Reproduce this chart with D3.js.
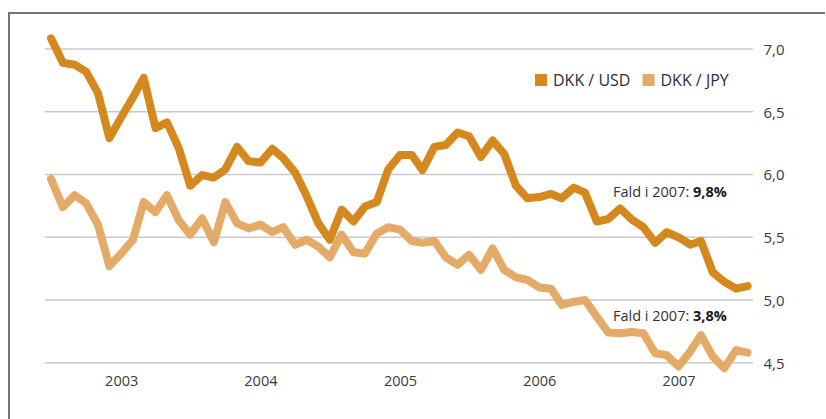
<!DOCTYPE html>
<html><head><meta charset="utf-8">
<script src="https://cdn.jsdelivr.net/npm/d3@7"></script>
<style>
html,body{margin:0;padding:0;background:#fff;}
svg{display:block;font-family:"Open Sans","Noto Sans",sans-serif;}
</style></head>
<body>
<svg id="c" width="826" height="419"></svg>
<script>
const startMonth = "2002-07";
const usd = [7.085,6.89,6.875,6.82,6.65,6.29,6.455,6.615,6.77,6.37,6.415,6.21,5.91,5.995,5.975,6.04,6.22,6.105,6.095,6.205,6.13,6.015,5.83,5.61,5.48,5.72,5.625,5.745,5.78,6.04,6.155,6.155,6.035,6.22,6.235,6.335,6.305,6.14,6.27,6.165,5.91,5.81,5.82,5.845,5.81,5.895,5.855,5.625,5.645,5.73,5.64,5.58,5.455,5.54,5.5,5.44,5.47,5.22,5.145,5.09,5.11];
const jpy = [5.965,5.74,5.835,5.77,5.6,5.27,5.37,5.48,5.78,5.7,5.835,5.635,5.52,5.65,5.46,5.78,5.61,5.57,5.6,5.54,5.58,5.44,5.48,5.425,5.34,5.52,5.38,5.37,5.53,5.58,5.56,5.47,5.455,5.47,5.34,5.28,5.36,5.24,5.41,5.24,5.18,5.16,5.1,5.09,4.96,4.985,5.0,4.865,4.74,4.735,4.745,4.735,4.575,4.56,4.47,4.59,4.72,4.55,4.455,4.6,4.58];
const yTicks = [4.5,5.0,5.5,6.0,6.5,7.0];
const yearTicks = [2003,2004,2005,2006,2007];
const seriesNames = ["DKK / USD","DKK / JPY"];
const notes = [{pre:"Fald i 2007: ",val:"9,8%",y:5.82},{pre:"Fald i 2007: ",val:"3,8%",y:4.83}];

const colors = ["#d4881e","#e4ab68"];
const svg = d3.select("#c");
const p0 = d3.timeParse("%Y-%m")(startMonth);
const dates = usd.map((d,i)=>d3.timeMonth.offset(p0,i));

const x = d3.scaleTime().domain([dates[0], dates[dates.length-1]]).range([51,747.5]);
const y = d3.scaleLinear().domain([4.5,7.0]).range([362.7,49]);

// frame
svg.append("line").attr("x1",9).attr("x2",825).attr("y1",13).attr("y2",13).attr("stroke","#767676").attr("stroke-width",2);
svg.append("line").attr("x1",9).attr("x2",9).attr("y1",12).attr("y2",419).attr("stroke","#767676").attr("stroke-width",2);

// gridlines
svg.append("g").selectAll("line").data(yTicks).join("line")
  .attr("x1",45).attr("x2",753).attr("y1",d=>y(d)).attr("y2",d=>y(d))
  .attr("stroke","#c9c9c9").attr("stroke-width",1.5);

// y labels
const fmt = d=>d3.format(".1f")(d).replace(".",",");
const yAxis = d3.axisRight(y).tickValues(yTicks).tickFormat(fmt).tickSize(0).tickPadding(0);
const ga = svg.append("g").attr("transform","translate(763.5,0)").call(yAxis);
ga.select(".domain").remove();
ga.selectAll("text").attr("fill","#3a3a3a").style("font-size","15px").style("font-family","'Open Sans','Noto Sans',sans-serif").attr("dy","0.36em");

// x labels
const xAxis = d3.axisBottom(x).tickValues(yearTicks.map(yy=>new Date(yy,0,1))).tickFormat(d3.timeFormat("%Y")).tickSize(0).tickPadding(0);
const gx = svg.append("g").attr("transform","translate(0,381)").call(xAxis);
gx.select(".domain").remove();
gx.selectAll("text").attr("fill","#3a3a3a").style("font-size","14.5px").style("font-family","'Open Sans','Noto Sans',sans-serif").attr("dy","0.32em");

// lines
const line = d3.line().x((d,i)=>x(dates[i])).y(d=>y(d));
[jpy,usd].forEach((s,k)=>{
  svg.append("path").datum(s).attr("d",line).attr("fill","none")
    .attr("stroke", k===0?colors[1]:colors[0]).attr("stroke-width",8)
    .attr("stroke-linejoin","round").attr("stroke-linecap","round");
});

// legend
const leg = svg.append("g");
const legX = [535,642.5];
seriesNames.forEach((n,i)=>{
  leg.append("rect").attr("x",legX[i]).attr("y",74).attr("width",12).attr("height",12).attr("fill",colors[i]);
  leg.append("text").attr("x",legX[i]+18).attr("y",86).text(n).attr("fill","#2f2f2f").style("font-size","16px");
});

// notes
notes.forEach(n=>{
  const t = svg.append("text").attr("x",613).attr("y",y(n.y)).attr("fill","#333").style("font-size","14.5px");
  t.append("tspan").text(n.pre);
  t.append("tspan").text(n.val).attr("font-weight","bold").attr("fill","#1a1a1a");
});
</script>
</body></html>
